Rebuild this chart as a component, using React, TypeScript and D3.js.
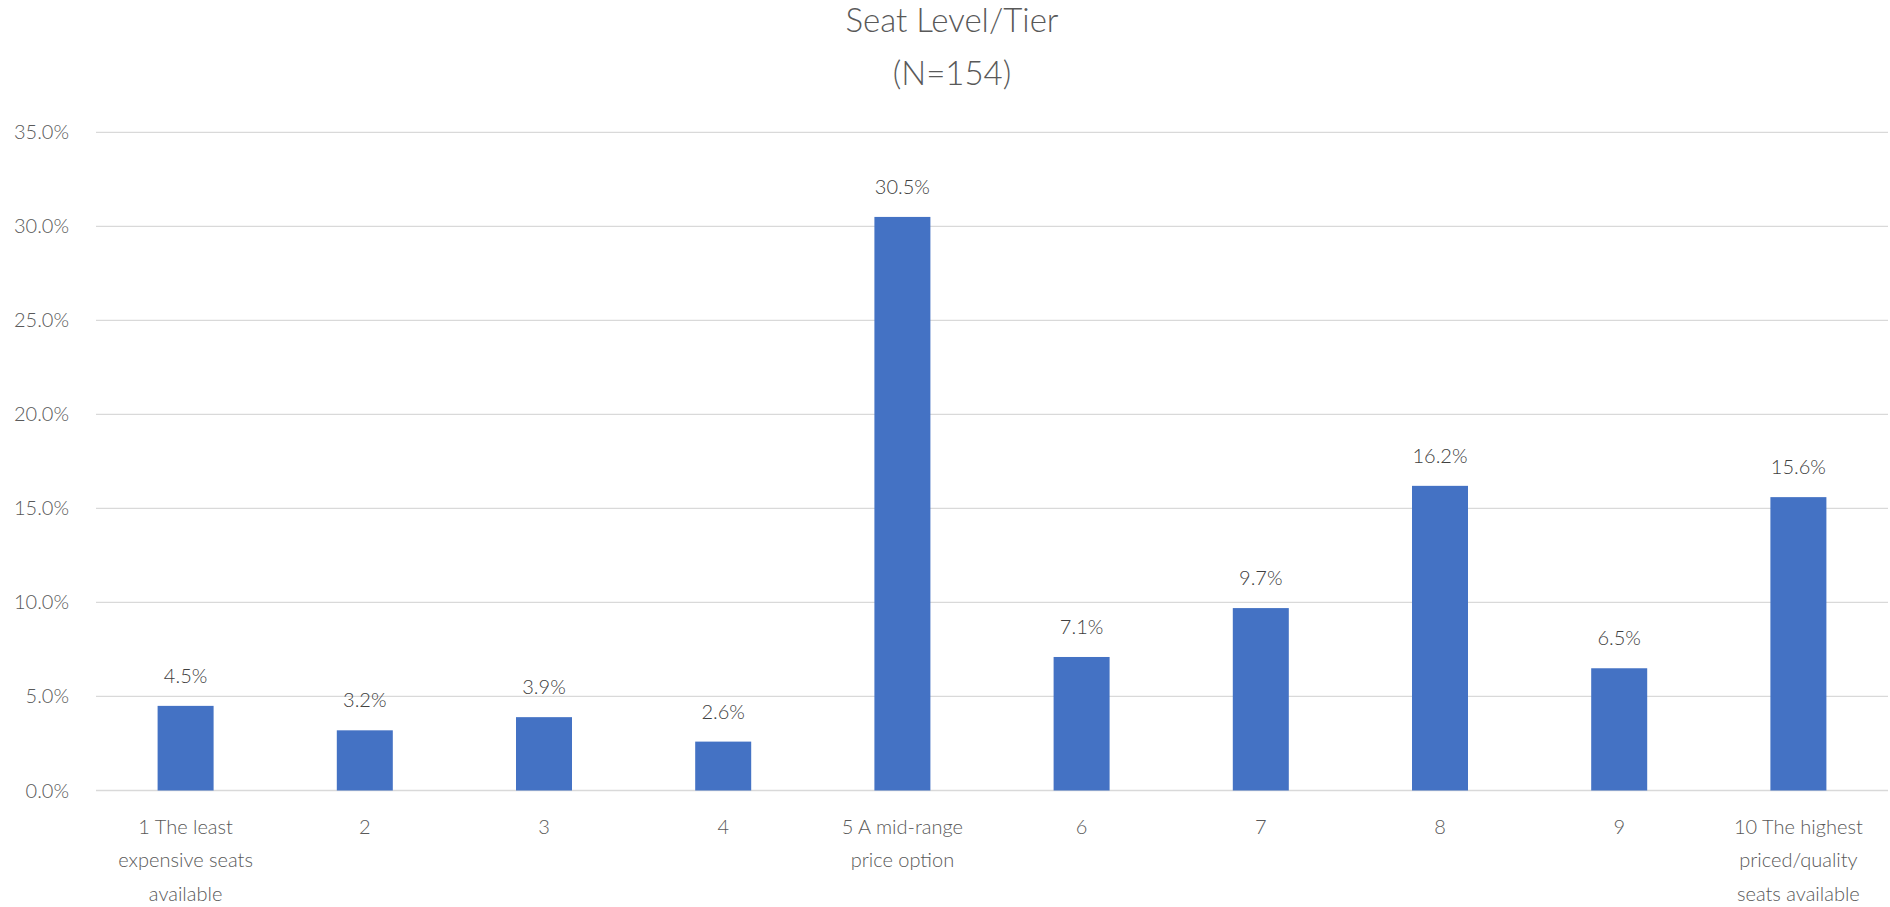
import React from "react";
import * as d3 from "d3";

const titleLines = ["Seat Level/Tier", "(N=154)"];
const categories = ["1", "2", "3", "4", "5", "6", "7", "8", "9", "10"];
const categoryLabels: string[][] = [
  ["1 The least", "expensive seats", "available"],
  ["2"],
  ["3"],
  ["4"],
  ["5 A mid-range", "price option"],
  ["6"],
  ["7"],
  ["8"],
  ["9"],
  ["10 The highest", "priced/quality", "seats available"],
];
const values = [4.5, 3.2, 3.9, 2.6, 30.5, 7.1, 9.7, 16.2, 6.5, 15.6];
const yTicks = [0, 5, 10, 15, 20, 25, 30, 35];

const W = 1890;
const H = 907;
const FONT = "Lato, 'Open Sans', sans-serif";
const TEXT = "#595959";

export default function App() {
  const left = 96;
  const right = 1888;
  const top = 132.3;
  const bottom = 790.5;

  const x = d3
    .scaleBand<string>()
    .domain(categories)
    .range([left, right])
    .paddingInner(0.6875)
    .paddingOuter(0.34375);
  const y = d3.scaleLinear().domain([0, 35]).range([bottom, top]);
  const fmt = (v: number) => d3.format(".1f")(v) + "%";

  return (
    <svg
      width={W}
      height={H}
      style={{ position: "absolute", left: 0, top: 0, background: "#fff" }}
      fontFamily={FONT}
    >
      <rect x={0} y={0} width={W} height={H} fill="#fff" />
      {titleLines.map((t, i) => (
        <text
          key={t}
          x={W / 2 + 7}
          y={32 + i * 53}
          textAnchor="middle"
          fontSize={33}
          fill={TEXT}
          fontWeight={300}
        >
          {t}
        </text>
      ))}
      {yTicks.map((t) => (
        <g key={t}>
          <line
            x1={left}
            x2={right}
            y1={y(t)}
            y2={y(t)}
            stroke="#d9d9d9"
            strokeWidth={1.3}
          />
          <text
            x={69}
            y={y(t)}
            dy="0.35em"
            textAnchor="end"
            fontSize={20}
            fill={TEXT}
            fontWeight={300}
          >
            {fmt(t)}
          </text>
        </g>
      ))}
      {categories.map((c, i) => (
        <g key={c}>
          <rect
            x={x(c)!}
            y={y(values[i])}
            width={x.bandwidth()}
            height={y(0) - y(values[i])}
            fill="#4472C4"
          />
          <text
            x={x(c)! + x.bandwidth() / 2}
            y={y(values[i]) - 23}
            textAnchor="middle"
            fontSize={20}
            fill="#404040"
            fontWeight={300}
          >
            {fmt(values[i])}
          </text>
          {categoryLabels[i].map((line, j) => (
            <text
              key={j}
              x={x(c)! + x.bandwidth() / 2}
              y={834 + j * 33.3}
              textAnchor="middle"
              fontSize={20}
              fill={TEXT}
              fontWeight={300}
            >
              {line}
            </text>
          ))}
        </g>
      ))}
    </svg>
  );
}
